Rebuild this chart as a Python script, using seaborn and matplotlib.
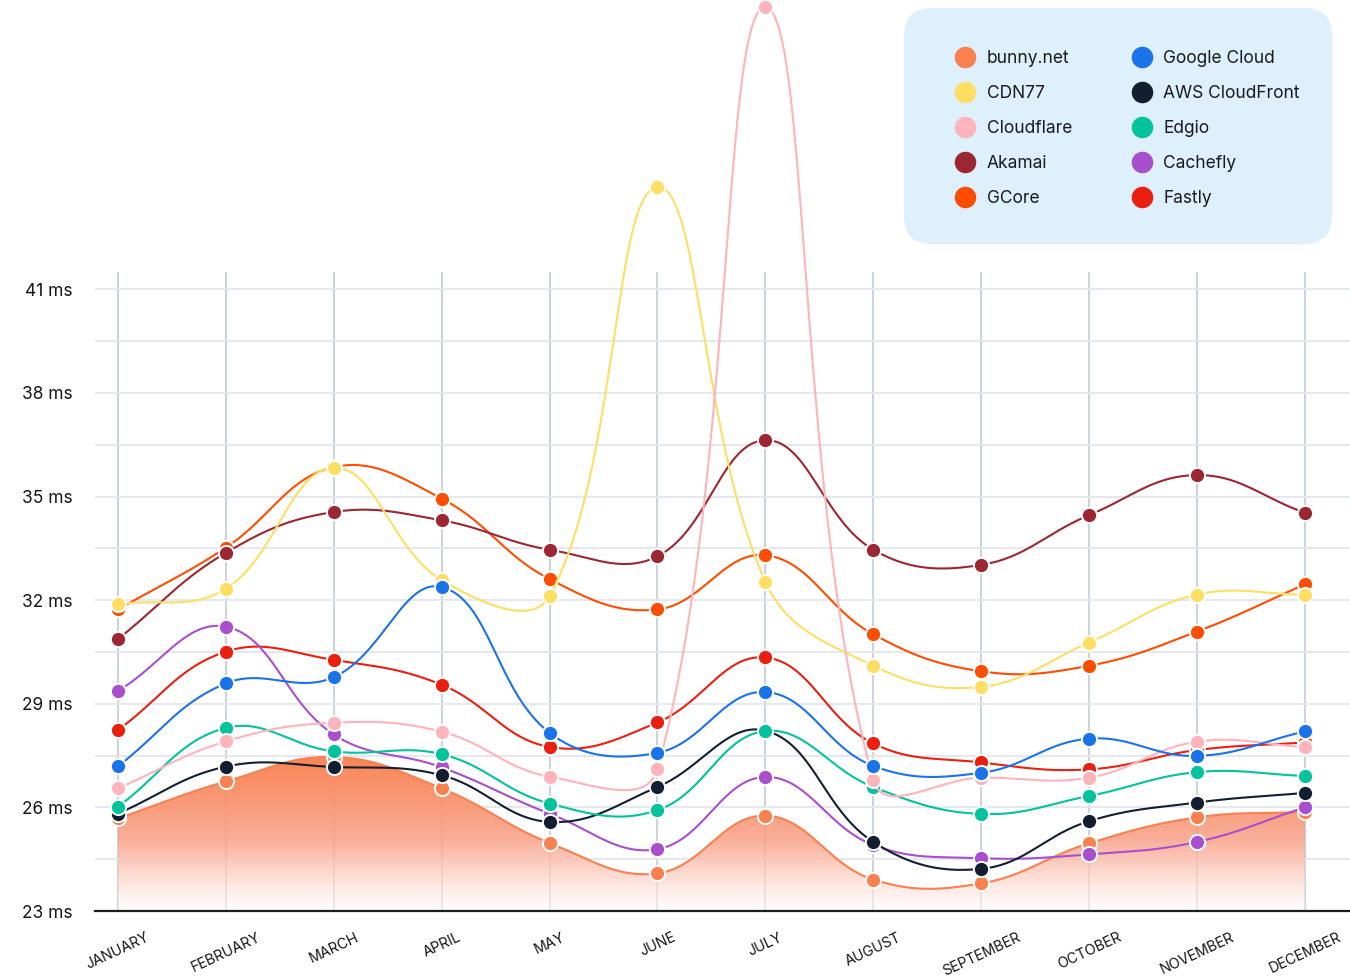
import numpy as np
import pandas as pd
import matplotlib
matplotlib.use("Agg")
import matplotlib.pyplot as plt
import seaborn as sns
from matplotlib.lines import Line2D
from matplotlib.patches import FancyBboxPatch
from matplotlib.transforms import IdentityTransform

sns.set_theme(style="white")
plt.rcParams["font.family"] = ["Inter", "DejaVu Sans"]

months = ["JANUARY", "FEBRUARY", "MARCH", "APRIL", "MAY", "JUNE", "JULY",
          "AUGUST", "SEPTEMBER", "OCTOBER", "NOVEMBER", "DECEMBER"]

providers = ["bunny.net", "CDN77", "Cloudflare", "Akamai", "GCore",
             "Google Cloud", "AWS CloudFront", "Edgio", "Cachefly", "Fastly"]
colors = ["#FA8050", "#FEDF63", "#FFB3BA", "#9C2632", "#FF4D00",
          "#1A73E8", "#131F30", "#02C39B", "#A94ECC", "#EA1F10"]

bunny = [25.68, 26.75, 27.46, 26.55, 24.97, 24.09, 25.76, 23.91, 23.80, 24.96, 25.71, 25.87]
cdn77 = [31.88, 32.33, 35.83, 32.58, 32.12, 43.96, 32.53, 30.10, 29.49, 30.77, 32.16, 32.16]
cloudflare = [26.55, 27.91, 28.45, 28.19, 26.89, 27.11, 49.17, 26.79, 26.86, 26.86, 27.90, 27.75]
akamai = [30.87, 33.37, 34.55, 34.31, 33.46, 33.27, 36.63, 33.46, 33.02, 34.46, 35.62, 34.53]
gcore = [31.73, 33.52, 35.85, 34.94, 32.61, 31.73, 33.30, 31.01, 29.94, 30.10, 31.09, 32.46]
google = [27.19, 29.59, 29.77, 32.38, 28.16, 27.58, 29.34, 27.20, 27.00, 27.99, 27.49, 28.20]
aws = [25.82, 27.18, 27.17, 26.93, 25.58, 26.59, 28.22, 25.00, 24.22, 25.60, 26.14, 26.42]
edgio = [26.02, 28.30, 27.62, 27.54, 26.11, 25.92, 28.21, 26.59, 25.81, 26.33, 27.02, 26.91]
cachefly = [29.37, 31.23, 28.11, 27.16, 25.82, 24.79, 26.88, 24.91, 24.53, 24.64, 25.00, 26.00]
fastly = [28.24, 30.51, 30.27, 29.55, 27.75, 28.46, 30.34, 27.85, 27.30, 27.10, 27.66, 27.88]

series = [bunny, cdn77, cloudflare, akamai, gcore, google, aws, edgio, cachefly, fastly]
# drawing order, bottom to top
draw_order = ["bunny.net", "Fastly", "Cachefly", "AWS CloudFront", "Edgio",
              "GCore", "Akamai", "CDN77", "Cloudflare", "Google Cloud"]

y_ticks = [23, 26, 29, 32, 35, 38, 41]
y_min, y_max = 23, 41.5

grid_h = "#E3E7EE"
grid_v = "#C9CED9"


def smooth(xs, ys, sx=107.9, sy=34.56, t=0.4, n=40):
    # cardinal-style spline (chart.js like) computed in pixel space
    p = np.column_stack([np.asarray(xs) * sx, np.asarray(ys) * sy])
    k = len(p)
    cp_in, cp_out = [], []
    for i in range(k):
        p0 = p[max(i - 1, 0)]
        p1 = p[i]
        p2 = p[min(i + 1, k - 1)]
        d01 = np.hypot(*(p1 - p0))
        d12 = np.hypot(*(p2 - p1))
        tot = d01 + d12
        s01 = d01 / tot if tot else 0
        s12 = d12 / tot if tot else 0
        cp_in.append(p1 - t * s01 * (p2 - p0))
        cp_out.append(p1 + t * s12 * (p2 - p0))
    u = np.linspace(0, 1, n)[:, None]
    out = []
    for i in range(k - 1):
        a, b, c, d = p[i], cp_out[i], cp_in[i + 1], p[i + 1]
        seg = (1 - u) ** 3 * a + 3 * (1 - u) ** 2 * u * b + 3 * (1 - u) * u ** 2 * c + u ** 3 * d
        out.append(seg if i == 0 else seg[1:])
    out = np.vstack(out)
    return out[:, 0] / sx, out[:, 1] / sy


fig = plt.figure(figsize=(13.5, 9.8), dpi=100)
ax = fig.add_axes([95 / 1350, 1 - 911 / 980, 1 - 95 / 1350, (911 - 272) / 980])

x = np.arange(len(months))
x_lim = (-0.213, 11.418)

# grid
ax.set_yticks(y_ticks)
ax.set_yticks(np.arange(24.5, 41, 3), minor=True)
ax.set_yticklabels([f"{v} ms" for v in y_ticks])
ax.set_xticks(x)
ax.set_xticklabels(months, rotation=25, ha="center", va="top")
ax.grid(axis="y", which="both", color=grid_h, lw=1.3, zorder=0)
ax.grid(axis="x", which="major", color=grid_v, lw=1.3, zorder=0)
ax.set_axisbelow(True)

for s in ["top", "right", "left"]:
    ax.spines[s].set_visible(False)
ax.spines["bottom"].set_color("#1c1c1c")
ax.spines["bottom"].set_linewidth(1.6)
ax.spines["bottom"].set_zorder(30)

ax.tick_params(axis="y", which="both", length=0, pad=16, labelsize=12.5, labelcolor="#151515")
ax.tick_params(axis="x", which="major", length=10, width=1.3, color=grid_v, pad=4,
               labelsize=10.3, labelcolor="#151515")

lookup = dict(zip(providers, zip(series, colors)))

for z, name in enumerate(draw_order):
    vals, col = lookup[name]
    cx, cy = smooth(x, vals)
    zo = 5 + 2 * z
    if name == "bunny.net":
        poly = ax.fill_between(cx, cy, y_min, color="none", lw=0, zorder=zo - 1)
        # vertical gradient clipped to the area under bunny.net
        grad_y = np.linspace(0, 1, 256)[:, None]
        top = np.array([249, 128, 79]) / 255
        mid = np.array([250, 160, 135]) / 255
        bot = np.array([255, 255, 255]) / 255
        rgb = np.where(grad_y < 0.55,
                       top + (mid - top) * (grad_y / 0.55),
                       mid + (bot - mid) * ((grad_y - 0.55) / 0.45))
        alpha = 0.96 - 0.4 * grad_y ** 2
        img = np.dstack([np.repeat(rgb[:, None, :], 2, axis=1), np.repeat(alpha, 2, axis=1)[:, :, None]])
        im = ax.imshow(img, extent=[x[0], x[-1], y_min, 27.5], origin="upper",
                       aspect="auto", zorder=zo - 1, interpolation="bilinear")
        im.set_clip_path(poly.get_paths()[0], transform=ax.transData)
    sns.lineplot(x=cx, y=cy, color=col, lw=1.5, sort=False, estimator=None,
                 ax=ax, zorder=zo, clip_on=False)
    sns.scatterplot(x=x, y=vals, color=col, s=120, edgecolor="white", linewidth=1.4,
                    ax=ax, zorder=zo + 1, clip_on=False)

ax.set_xlim(*x_lim)
ax.set_ylim(y_min, y_max)
ax.set_xlabel("")
ax.set_ylabel("")

# legend panel
box = FancyBboxPatch((904, 980 - 244), 428, 236,
                     boxstyle="round,pad=0,rounding_size=28",
                     transform=IdentityTransform(), facecolor="#DEF0FC",
                     edgecolor="none", zorder=0)
fig.patches.append(box)

handles = [Line2D([], [], marker="o", ls="", markersize=15.5, markerfacecolor=c,
                  markeredgewidth=0) for c in colors]
fig.legend(handles, providers, ncol=2, frameon=False, loc="upper left",
           bbox_to_anchor=((965 - 10.4) / 1350, 1 - 50.5 / 980),
           borderpad=0, borderaxespad=0, fontsize=12.5, handlelength=1.2,
           handletextpad=0.65, columnspacing=3.4, labelspacing=1.03,
           labelcolor="#1a1a1a")

fig.savefig("out.png", dpi=100)
